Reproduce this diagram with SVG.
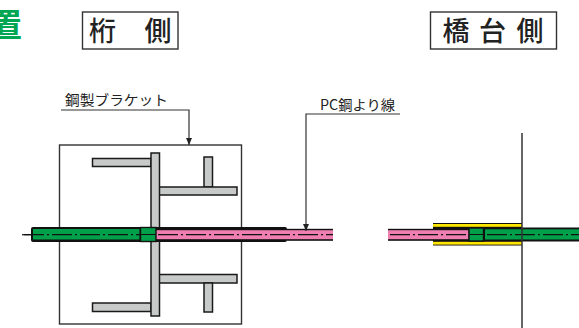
<svg xmlns="http://www.w3.org/2000/svg" width="579" height="328" viewBox="0 0 579 328">
<style>
text{font-family:"Noto Sans CJK JP","Liberation Sans",sans-serif;fill:#222}
.hd{font-size:27px;font-weight:500}
.lb{font-size:14px}
.ln{fill:none;stroke:#333;stroke-width:1.2}
.bx{fill:#fff;stroke:#333;stroke-width:1.4}
.st{fill:#c8c9c9;stroke:#1a1a1a;stroke-width:1.5}
.gr{fill:#00a04a;stroke:#111;stroke-width:1.4}
.pk{fill:#ee7fb0}
.ye{fill:#ffe600}
.bk{fill:#111}
.cl{fill:none;stroke:#111;stroke-width:1.2;stroke-dasharray:20 3 2 3;stroke-dashoffset:-2}
</style>
<defs><marker id="a" markerWidth="7" markerHeight="6" refX="7" refY="3" orient="auto" markerUnits="userSpaceOnUse"><path d="M0 0L7 3L0 6Z" fill="#222"/></marker></defs>

<text x="-11" y="37" font-size="33" font-weight="700" style="fill:#00a651">置</text>

<g id="header-girder"><rect class="bx" x="82.500" y="12" width="95.500" height="37"/>
<text class="hd" x="89" y="41">桁</text><text class="hd" x="144.500" y="41">側</text></g>
<g id="header-abutment"><rect class="bx" x="430.500" y="12" width="126" height="37"/>
<text class="hd" x="442.500" y="41">橋</text><text class="hd" x="479" y="41">台</text><text class="hd" x="516.500" y="41">側</text></g>

<g id="bracket">
<rect class="bx" x="59.500" y="145" width="182" height="179"/>
<rect class="st" x="92.500" y="158.500" width="58.500" height="8"/>
<rect class="st" x="204" y="157" width="8.500" height="30"/>
<rect class="st" x="159" y="187" width="78" height="8"/>
<rect class="st" x="159" y="274.500" width="78" height="8.500"/>
<rect class="st" x="204" y="283" width="8.500" height="29"/>
<rect class="st" x="92.500" y="303" width="58.500" height="8.500"/>
<rect class="st" x="151" y="153" width="8.500" height="163"/>
</g>

<g id="tendon-girder">
<rect class="bk" x="31" y="227" width="256" height="15" rx="2"/>
<rect class="bk" x="287" y="228.800" width="46" height="12"/>
<rect x="33" y="229" width="106.500" height="10.500" fill="#00a04a"/>
<rect class="pk" x="156" y="230.200" width="177" height="9"/>
<rect class="gr" x="140.500" y="227.500" width="15.500" height="14"/>
<path d="M140.500 234.500H156" stroke="#111" stroke-width="1"/>
<path class="cl" d="M22 234.700H140M156 234.700H333"/>
<path d="M22 234.700H33" stroke="#111" stroke-width="1.200"/>
</g>

<g id="tendon-abutment">
<rect class="bk" x="433" y="223" width="89" height="22.500"/>
<rect class="ye" x="433" y="224" width="89" height="2.800"/>
<rect class="ye" x="433" y="241.800" width="89" height="2.800"/>
<rect class="bk" x="388" y="228.800" width="45" height="12"/>
<rect class="bk" x="522" y="227.500" width="57" height="14"/>
<rect class="pk" x="388" y="230.200" width="80.500" height="9"/>
<rect x="485" y="229.300" width="94" height="10.200" fill="#00a04a"/>
<rect class="gr" x="469" y="228" width="14.500" height="13"/>
<path d="M469 234.500H483.500" stroke="#111" stroke-width="1"/>
<path class="cl" d="M388 234.700H468M485 234.700H579"/>
<path d="M522 133V328" stroke="#333" stroke-width="1.500" fill="none"/>
</g>

<g id="connectors">
<path class="ln" d="M61 110H189V145" marker-end="url(#a)"/>
<path class="ln" d="M400 114H306V231" marker-end="url(#a)"/>
</g>
<g id="labels">
<text class="lb" x="65" y="105" textLength="103" lengthAdjust="spacingAndGlyphs">鋼製ブラケット</text>
<text class="lb" x="320" y="110" textLength="75" lengthAdjust="spacingAndGlyphs">PC鋼より線</text>
</g>
</svg>
